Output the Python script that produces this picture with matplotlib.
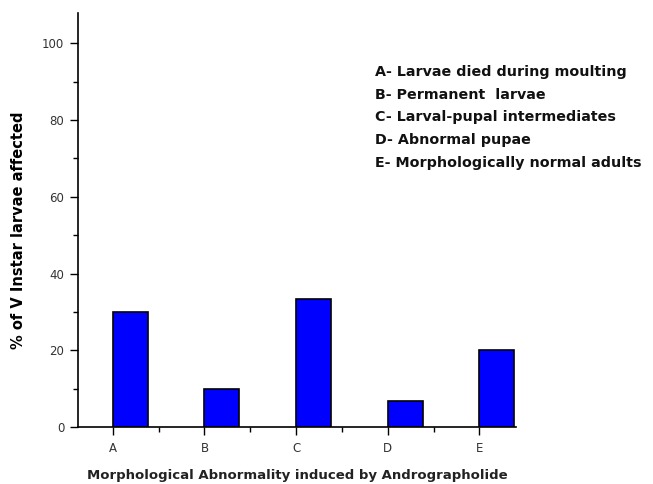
import matplotlib
matplotlib.use("Agg")
import matplotlib.pyplot as plt
from matplotlib.ticker import MultipleLocator

categories = ["A", "B", "C", "D", "E"]
values = [30, 10, 33.3, 6.67, 20]
legend_lines = [
    "A- Larvae died during moulting",
    "B- Permanent  larvae",
    "C- Larval-pupal intermediates",
    "D- Abnormal pupae",
    "E- Morphologically normal adults",
]

plt.rcParams['font.family'] = ['DejaVu Sans']

fig = plt.figure(figsize=(6.53, 4.84), dpi=100)
ax = fig.add_axes([78/653, 57/484, (516-78)/653, (427-13)/484])

x = list(range(1, len(categories) + 1))
ax.bar(x, values, width=0.38, align='edge', color='#0000ff', edgecolor='black', linewidth=1.2)

ax.set_xlim(0.62, 5.40)
ax.set_ylim(0, 107.9)
ax.set_xticks(x)
ax.set_xticklabels(categories)
ax.xaxis.set_minor_locator(MultipleLocator(0.5))
ax.yaxis.set_major_locator(MultipleLocator(20))
ax.yaxis.set_minor_locator(MultipleLocator(10))
ax.tick_params(axis='both', which='major', direction='out', length=5.8, width=1, labelsize=8.5, labelcolor='#333333')
ax.tick_params(axis='both', which='minor', direction='out', length=3.5, width=1)
ax.tick_params(axis='x', pad=5)
ax.tick_params(axis='y', pad=4)
for s in ['top', 'right']:
    ax.spines[s].set_visible(False)
for s in ['left', 'bottom']:
    ax.spines[s].set_linewidth(1.2)

ax.set_ylabel("% of V Instar larvae affected", fontsize=10.5, fontweight='bold', va='center', ha='center')
ax.yaxis.set_label_coords(-(78-19)/438, (427-230)/414)
ax.set_xlabel("Morphological Abnormality induced by Andrographolide", fontsize=9.5, fontweight='bold',
              color='#222222', va='center', ha='center')
ax.xaxis.set_label_coords((297.5-78)/438, -(475-427)/414)

for i, line in enumerate(legend_lines):
    fig.text(375/653, 1 - (76 + i*22.75)/484, line, fontsize=10.3, fontweight='bold',
             va='baseline', ha='left', color='#111111')

fig.savefig("out.png", dpi=100)
